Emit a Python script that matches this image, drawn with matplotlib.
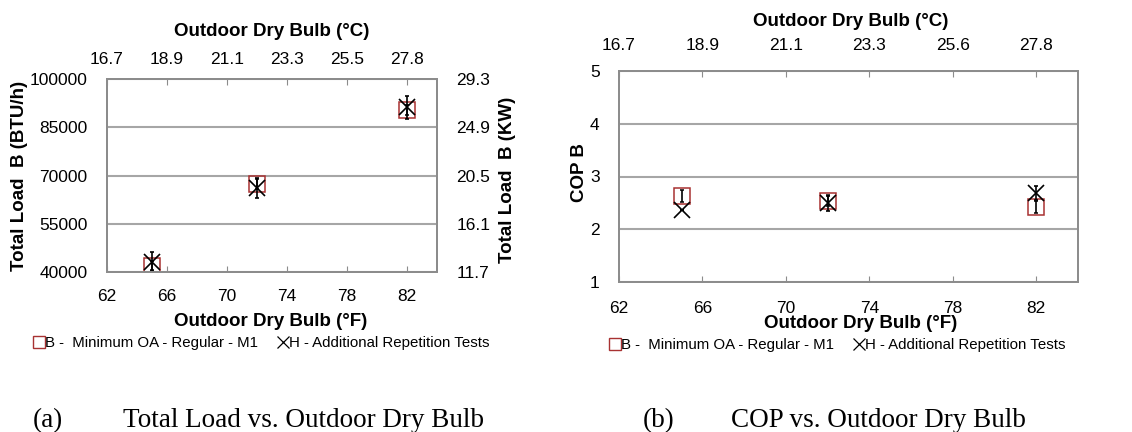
import matplotlib
matplotlib.use("Agg")
import matplotlib.pyplot as plt
from matplotlib.lines import Line2D

# ---- data -------------------------------------------------------------
temp_f = [65, 72, 82]

load_b = [42000, 67400, 90400]          # BTU/h, series B
load_b_err = [1500, 1500, 1500]
load_h = [43200, 66000, 91200]          # BTU/h, series H
load_h_err = [3000, 3100, 3600]

cop_b = [2.63, 2.54, 2.42]
cop_b_err = [0.12, 0.10, 0.12]
cop_h = [2.36, 2.49, 2.69]
cop_h_err = [0.0, 0.14, 0.13]

f_ticks = [62, 66, 70, 74, 78, 82]
c_labels_a = ["16.7", "18.9", "21.1", "23.3", "25.5", "27.8"]
c_labels_b = ["16.7", "18.9", "21.1", "23.3", "25.6", "27.8"]

load_ticks = [40000, 55000, 70000, 85000, 100000]
kw_labels = ["11.7", "16.1", "20.5", "24.9", "29.3"]
cop_ticks = [1, 2, 3, 4, 5]

label_b = "B -  Minimum OA - Regular - M1"
label_h = "H - Additional Repetition Tests"

# ---- style ------------------------------------------------------------
plt.rcParams["font.family"] = ["Liberation Sans", "DejaVu Sans"]
SANS = ["Liberation Sans", "DejaVu Sans"]
SERIF = ["Liberation Serif", "DejaVu Serif"]
GRAY = "#8c8c8c"
GRID = "#a6a6a6"
RED = "#a83232"
TICK_FS = 12.5
TITLE_FS = 13.5

W, H = 1132, 432
fig = plt.figure(figsize=(W / 100, H / 100), dpi=100)


def fx(px):
    return px / W


def fy(py):
    return 1 - py / H


def style_axes(ax):
    for s in ax.spines.values():
        s.set_color(GRAY)
        s.set_linewidth(1.3)
    ax.set_facecolor("white")


def draw_panel(ax, yb, yb_err, yh, yh_err):
    ax.errorbar(temp_f, yb, yerr=yb_err, fmt="s", ms=11, mfc="none",
                mec=RED, mew=1.1, ecolor="black", elinewidth=1.2,
                capsize=1.5, capthick=1.0, zorder=3)
    ax.errorbar(temp_f, yh, yerr=yh_err, fmt="x", ms=12, mec="black",
                mew=1.2, ecolor="black", elinewidth=1.2, capsize=1.5,
                capthick=1.0, zorder=4)


# ---- panel (a): total load -------------------------------------------
ax1 = fig.add_axes([fx(107), fy(272), fx(437 - 107), (272 - 79) / H])
style_axes(ax1)
draw_panel(ax1, load_b, load_b_err, load_h, load_h_err)
ax1.set_xlim(62, 84)
ax1.set_ylim(40000, 100000)
ax1.set_xticks(f_ticks)
ax1.set_yticks(load_ticks)
ax1.set_yticklabels([str(v) for v in load_ticks])
ax1.yaxis.grid(True, color=GRID, lw=1.5)
ax1.set_axisbelow(True)
ax1.tick_params(axis="x", direction="in", length=4, color=GRAY,
                labelsize=TICK_FS, pad=12)
ax1.tick_params(axis="y", length=0, labelsize=TICK_FS, pad=14)

ax1t = ax1.twiny()
ax1t.set_xlim(ax1.get_xlim())
ax1t.set_xticks(f_ticks)
ax1t.set_xticklabels(c_labels_a)
ax1t.tick_params(axis="x", direction="in", length=4, color=GRAY,
                 labelsize=TICK_FS, pad=9)
style_axes(ax1t)

ax1r = ax1.twinx()
ax1r.set_ylim(ax1.get_ylim())
ax1r.set_yticks(load_ticks)
ax1r.set_yticklabels(kw_labels)
ax1r.tick_params(axis="y", length=0, labelsize=TICK_FS, pad=14)
style_axes(ax1r)

fig.text(fx(272), fy(32), "Outdoor Dry Bulb (°C)", ha="center",
         va="center", fontsize=TITLE_FS, fontweight="bold")
fig.text(fx(271), fy(322), "Outdoor Dry Bulb (°F)", ha="center",
         va="center", fontsize=TITLE_FS, fontweight="bold")
fig.text(fx(20), fy(176), "Total Load  B (BTU/h)", rotation=90,
         ha="center", va="center", fontsize=TITLE_FS, fontweight="bold")
fig.text(fx(507), fy(180), "Total Load  B (KW)", rotation=90,
         ha="center", va="center", fontsize=TITLE_FS, fontweight="bold")

# ---- panel (b): COP ---------------------------------------------------
ax2 = fig.add_axes([fx(619), fy(282), fx(1078 - 619), (282 - 71) / H])
style_axes(ax2)
draw_panel(ax2, cop_b, cop_b_err, cop_h, cop_h_err)
ax2.set_xlim(62, 84)
ax2.set_ylim(1, 5)
ax2.set_xticks(f_ticks)
ax2.set_yticks(cop_ticks)
ax2.yaxis.grid(True, color=GRID, lw=1.5)
ax2.set_axisbelow(True)
ax2.tick_params(axis="x", direction="in", length=4, color=GRAY,
                labelsize=TICK_FS, pad=14)
ax2.tick_params(axis="y", length=0, labelsize=TICK_FS, pad=14)

ax2t = ax2.twiny()
ax2t.set_xlim(ax2.get_xlim())
ax2t.set_xticks(f_ticks)
ax2t.set_xticklabels(c_labels_b)
ax2t.tick_params(axis="x", direction="in", length=4, color=GRAY,
                 labelsize=TICK_FS, pad=13)
style_axes(ax2t)

fig.text(fx(851), fy(22), "Outdoor Dry Bulb (°C)", ha="center",
         va="center", fontsize=TITLE_FS, fontweight="bold")
fig.text(fx(861), fy(323), "Outdoor Dry Bulb (°F)", ha="center",
         va="center", fontsize=TITLE_FS, fontweight="bold")
fig.text(fx(580), fy(173), "COP B", rotation=90, ha="center",
         va="center", fontsize=TITLE_FS, fontweight="bold")

# ---- legends ----------------------------------------------------------
handles = [
    Line2D([], [], ls="none", marker="s", ms=8, mfc="none", mec=RED,
           mew=1.0),
    Line2D([], [], ls="none", marker="x", ms=8, mec="black", mew=0.9),
]
for cx, cy in [(262, 343), (838, 345)]:
    fig.legend(handles, [label_b, label_h], loc="center",
               bbox_to_anchor=(fx(cx), fy(cy)), ncol=2, frameon=False,
               handlelength=0.6, handletextpad=0.1, columnspacing=1.4,
               borderpad=0, prop={"family": SANS, "size": 10.8})

# ---- captions ---------------------------------------------------------
cap_fs = 19.5
fig.text(fx(33), fy(427), "(a)", ha="left", va="baseline",
         fontsize=cap_fs, family=SERIF)
fig.text(fx(123), fy(427), "Total Load vs. Outdoor Dry Bulb", ha="left",
         va="baseline", fontsize=cap_fs, family=SERIF)
fig.text(fx(643), fy(427), "(b)", ha="left", va="baseline",
         fontsize=cap_fs, family=SERIF)
fig.text(fx(731), fy(427), "COP vs. Outdoor Dry Bulb", ha="left",
         va="baseline", fontsize=cap_fs, family=SERIF)

fig.savefig("out.png", dpi=100, facecolor="white")
